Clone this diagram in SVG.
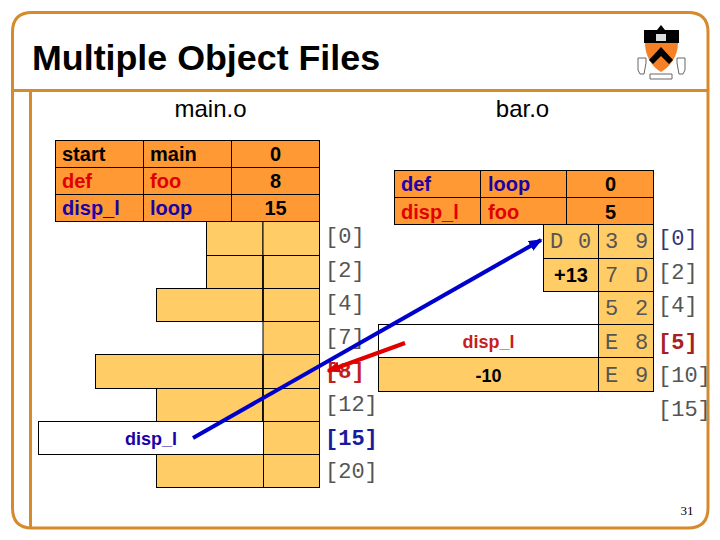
<svg xmlns="http://www.w3.org/2000/svg" width="720" height="540" viewBox="0 0 720 540">
<style>
.f{fill:none;stroke:#d68a2e;stroke-width:3}
.h{fill:#ff9933;stroke:#000;stroke-width:1}
.c{fill:#ffcc66;stroke:#000;stroke-width:1}
.w{fill:#fff;stroke:#000;stroke-width:1}
text{font-family:"Liberation Sans",Arial,sans-serif}
.b{font-size:20px;font-weight:bold;fill:#000}
.s{font-size:18px;font-weight:bold}
.m{font-family:"Liberation Mono","Courier New",monospace;font-size:22px;fill:#555}
.mb{font-family:"Liberation Mono","Courier New",monospace;font-size:22px;font-weight:bold}
.r{fill:#e00000}.bl{fill:#1a00a8}
.mid{text-anchor:middle}
</style>
<defs>
<marker id="ab" markerWidth="3.400" markerHeight="2.800" refX="3" refY="1.400" orient="auto"><path d="M0 0L3.400 1.400L0 2.800z" fill="#0000cc"/></marker>
<marker id="ar" markerWidth="3.400" markerHeight="2.800" refX="3" refY="1.400" orient="auto"><path d="M0 0L3.400 1.400L0 2.800z" fill="#e00000"/></marker>
</defs>
<g id="frame">
<path class="f" d="M32 12.500H688Q708 12.500 708 32V508Q708 528 688 528H32Q12.500 528 12.500 508V32Q12.500 12.500 32 12.500Z"/>
<path class="f" d="M12.500 90.500H708M30.500 90.500V528"/>
</g>
<text x="32" y="70" font-size="35.800" font-weight="bold" fill="#000">Multiple Object Files</text>
<g id="logo">
<path d="M644 43V30L657 30L661 25L665 30L679 30V43Z" fill="#000"/>
<path d="M645 43H678C678 56 670 67 661 72C652 67 645 56 645 43Z" fill="#f58025"/>
<path d="M649 60L661 47L673 60L669 64L661 56L653 64Z" fill="#000"/>
<rect x="656" y="34" width="10" height="7" fill="#ddd"/>
<path d="M638 58H646V63L644 74H640L638 70ZM685 58H677V63L679 74H683L685 70ZM650 74H672V79H650Z" fill="#fff" stroke="#666" stroke-width="1"/>
</g>
<text x="210.500" y="117" class="mid" font-size="24" fill="#000">main.o</text>
<text x="522.500" y="117" class="mid" font-size="24" fill="#000">bar.o</text>
<g id="main-symbols">
<rect class="h" x="55.500" y="140.500" width="88" height="27"/><rect class="h" x="143.500" y="140.500" width="88" height="27"/><rect class="h" x="231.500" y="140.500" width="88" height="27"/>
<rect class="h" x="55.500" y="167.500" width="88" height="27"/><rect class="h" x="143.500" y="167.500" width="88" height="27"/><rect class="h" x="231.500" y="167.500" width="88" height="27"/>
<rect class="h" x="55.500" y="194.500" width="88" height="27"/><rect class="h" x="143.500" y="194.500" width="88" height="27"/><rect class="h" x="231.500" y="194.500" width="88" height="27"/>
<text x="62" y="161" class="b">start</text><text x="150" y="161" class="b">main</text><text x="275.500" y="161" class="b mid">0</text>
<text x="62" y="188" class="b r">def</text><text x="150" y="188" class="b r">foo</text><text x="275.500" y="188" class="b mid">8</text>
<text x="62" y="215" class="b bl">disp_l</text><text x="150" y="215" class="b bl">loop</text><text x="275.500" y="215" class="b mid">15</text>
</g>
<g id="main-code">
<rect class="c" x="206.500" y="221.500" width="56.500" height="34"/><rect class="c" x="263" y="221.500" width="56.500" height="34"/>
<rect class="c" x="206.500" y="255.500" width="56.500" height="33"/><rect class="c" x="263" y="255.500" width="56.500" height="33"/>
<rect class="c" x="156.500" y="288.500" width="106.500" height="33"/><rect class="c" x="263" y="288.500" width="56.500" height="33"/>
<rect class="c" x="263" y="321.500" width="56.500" height="33"/>
<rect class="c" x="95.500" y="354.500" width="167.500" height="34"/><rect class="c" x="263" y="354.500" width="56.500" height="34"/>
<rect class="c" x="156.500" y="388.500" width="106.500" height="33"/><rect class="c" x="263" y="388.500" width="56.500" height="33"/>
<rect class="w" x="38.500" y="421.500" width="225" height="33"/><rect class="c" x="263.500" y="421.500" width="56" height="33"/>
<rect class="c" x="156.500" y="454.500" width="107" height="33"/><rect class="c" x="263.500" y="454.500" width="56" height="33"/>
<path d="M263 255.500V321.500M263 354.500V421.500" stroke="#000" stroke-width="1.500" fill="none"/>
<text x="151" y="445" class="s bl mid">disp_l</text>
</g>
<g id="main-offsets">
<text x="325" y="243" class="m">[0]</text><text x="325" y="277" class="m">[2]</text><text x="325" y="310" class="m">[4]</text><text x="325" y="344" class="m">[7]</text>
<text x="325" y="378" class="mb" fill="#c02020">[8]</text><text x="325" y="411" class="m">[12]</text><text x="325" y="445" class="mb" fill="#1a1aa0">[15]</text><text x="325" y="478" class="m">[20]</text>
</g>
<g id="bar-symbols">
<rect class="h" x="394.500" y="170.500" width="86" height="27"/><rect class="h" x="480.500" y="170.500" width="86" height="27"/><rect class="h" x="566.500" y="170.500" width="87" height="27"/>
<rect class="h" x="394.500" y="197.500" width="86" height="27"/><rect class="h" x="480.500" y="197.500" width="86" height="27"/><rect class="h" x="566.500" y="197.500" width="87" height="27"/>
<text x="401" y="191" class="b bl">def</text><text x="488" y="191" class="b bl">loop</text><text x="610.500" y="191" class="b mid">0</text>
<text x="401" y="219" class="b r">disp_l</text><text x="488" y="219" class="b r">foo</text><text x="610.500" y="219" class="b mid">5</text>
</g>
<g id="bar-code">
<rect class="c" x="543.500" y="224.500" width="55" height="34"/><rect class="c" x="598.500" y="224.500" width="55" height="34"/>
<rect class="c" x="543.500" y="258.500" width="55" height="33"/><rect class="c" x="598.500" y="258.500" width="55" height="33"/>
<rect class="c" x="598.500" y="291.500" width="55" height="33"/>
<rect class="w" x="378.500" y="324.500" width="220" height="33"/><rect class="c" x="598.500" y="324.500" width="55" height="33"/>
<rect class="c" x="378.500" y="357.500" width="220" height="34"/><rect class="c" x="598.500" y="357.500" width="55" height="34"/>
<text x="550" y="248" class="m">D</text><text x="578" y="248" class="m">0</text><text x="605" y="248" class="m">3</text><text x="635" y="248" class="m">9</text>
<text x="605" y="282" class="m">7</text><text x="635" y="282" class="m">D</text>
<text x="605" y="315" class="m">5</text><text x="635" y="315" class="m">2</text>
<text x="605" y="349" class="m">E</text><text x="635" y="349" class="m">8</text>
<text x="605" y="382" class="m">E</text><text x="635" y="382" class="m">9</text>
<text x="571" y="282" class="b mid">+13</text>
<text x="488.500" y="348" class="s mid" fill="#c81e1e">disp_l</text>
<text x="488.500" y="382" class="b mid" style="font-size:18px">-10</text>
</g>
<g id="bar-offsets">
<text x="658" y="245" class="m" fill="#1a1a70" style="fill:#33337a">[0]</text><text x="658" y="279" class="m">[2]</text><text x="658" y="312" class="m">[4]</text>
<text x="658" y="349" class="mb" fill="#a82020">[5]</text><text x="658" y="382" class="m">[10]</text><text x="658" y="416" class="m">[15]</text>
</g>
<text x="687" y="515" class="mid" font-size="13" style="font-family:'Liberation Serif',serif" fill="#000">31</text>
<g id="connectors" fill="none" stroke-width="4">
<line x1="193" y1="438" x2="541" y2="240" stroke="#0000cc" marker-end="url(#ab)"/>
<line x1="405" y1="343" x2="328" y2="371" stroke="#e00000" marker-end="url(#ar)"/>
</g>
</svg>
